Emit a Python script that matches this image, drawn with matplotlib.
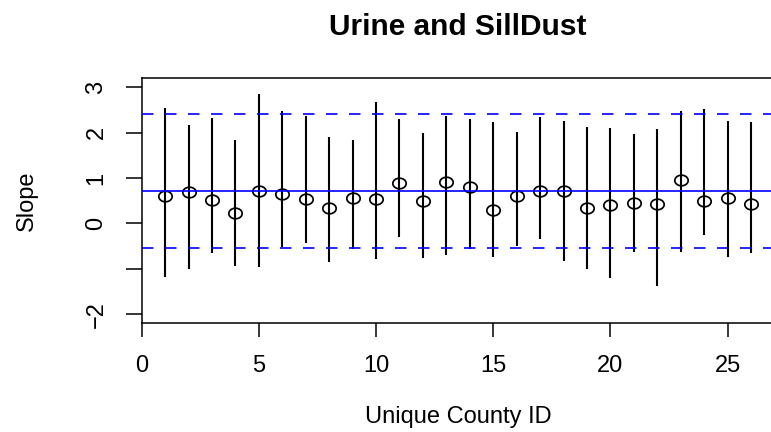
import numpy as np
import matplotlib
matplotlib.use("Agg")
import matplotlib.pyplot as plt
from matplotlib.path import Path
from matplotlib.markers import MarkerStyle

# ---- data ----
county_id = list(range(1, 27))
slope = [0.613, 0.702, 0.518, 0.224, 0.709, 0.650, 0.547, 0.349, 0.562, 0.533,
         0.893, 0.489, 0.915, 0.812, 0.305, 0.606, 0.716, 0.724, 0.334, 0.408,
         0.444, 0.430, 0.966, 0.489, 0.555, 0.437]
upper = [2.538, 2.171, 2.318, 1.848, 2.854, 2.487, 2.377, 1.899, 1.840, 2.671,
         2.303, 2.002, 2.362, 2.296, 2.244, 2.017, 2.340, 2.267, 2.120, 2.098,
         1.965, 2.076, 2.480, 2.516, 2.267, 2.230]
lower = [-1.172, -0.996, -0.643, -0.937, -0.966, -0.525, -0.422, -0.856, -0.569, -0.775,
         -0.298, -0.760, -0.687, -0.569, -0.746, -0.496, -0.334, -0.819, -1.010, -1.194,
         -0.621, -1.378, -0.628, -0.261, -0.746, -0.643]
mean_slope = 0.724
band_upper = 2.421
band_lower = -0.533

x_ticks = [0, 5, 10, 15, 20, 25]
y_ticks = [-2, -1, 0, 1, 2, 3]
y_tick_labels = ["\u22122", "", "0", "1", "2", "3"]

title = "Urine and SillDust"
x_label = "Unique County ID"
y_label = "Slope"

# ---- figure ----
plt.rcParams["font.family"] = ["Liberation Sans", "DejaVu Sans"]
W, H = 771, 432
fig = plt.figure(figsize=(W / 100, H / 100), dpi=100)

left_px, right_px, top_px, bottom_px = 141.7, 774.4, 78.3, 323.3
ax = fig.add_axes([left_px / W, 1 - bottom_px / H,
                   (right_px - left_px) / W, (bottom_px - top_px) / H])
ax.set_xlim(0, 27)
ax.set_ylim(-2.2, 3.2)

ax.vlines(county_id, lower, upper, colors="black", linewidth=1.5, zorder=2)

t = np.linspace(0, 2 * np.pi, 73)
ell = Path(np.column_stack([1.26 * np.cos(t), np.sin(t)]), closed=True)
ax.plot(county_id, slope, linestyle="none", marker=MarkerStyle(ell),
        markersize=9.6, markerfacecolor="none", markeredgecolor="black",
        markeredgewidth=1.25, zorder=3)

ax.axhline(mean_slope, color="blue", linewidth=1.2, zorder=4)
ax.axhline(band_upper, color="blue", linewidth=1.2, linestyle=(0, (6.9, 6.9)), zorder=4)
ax.axhline(band_lower, color="blue", linewidth=1.2, linestyle=(0, (6.9, 6.9)), zorder=4)

for s in ax.spines.values():
    s.set_linewidth(1.1)
    s.set_color("black")

ax.set_xticks(x_ticks)
ax.set_xticklabels([str(v) for v in x_ticks])
ax.set_yticks(y_ticks)
ax.set_yticklabels(y_tick_labels, rotation=90, va="center")
ax.tick_params(axis="x", direction="out", length=10, width=1.1, pad=13.0,
               labelsize=17, colors="black")
ax.tick_params(axis="y", direction="out", length=11.6, width=1.1, pad=13.0,
               labelsize=17, colors="black")

cx = (left_px + right_px) / 2 / W
fig.text(cx, 1 - 35 / H, title, ha="center", va="baseline",
         fontsize=21.5, fontweight="bold")
fig.text(cx, 1 - 423 / H, x_label, ha="center", va="baseline", fontsize=17)
fig.text(33 / W, 1 - 200.8 / H, y_label, ha="center", va="baseline",
         rotation=90, rotation_mode="anchor", fontsize=17)

fig.savefig("out.png", dpi=100)
